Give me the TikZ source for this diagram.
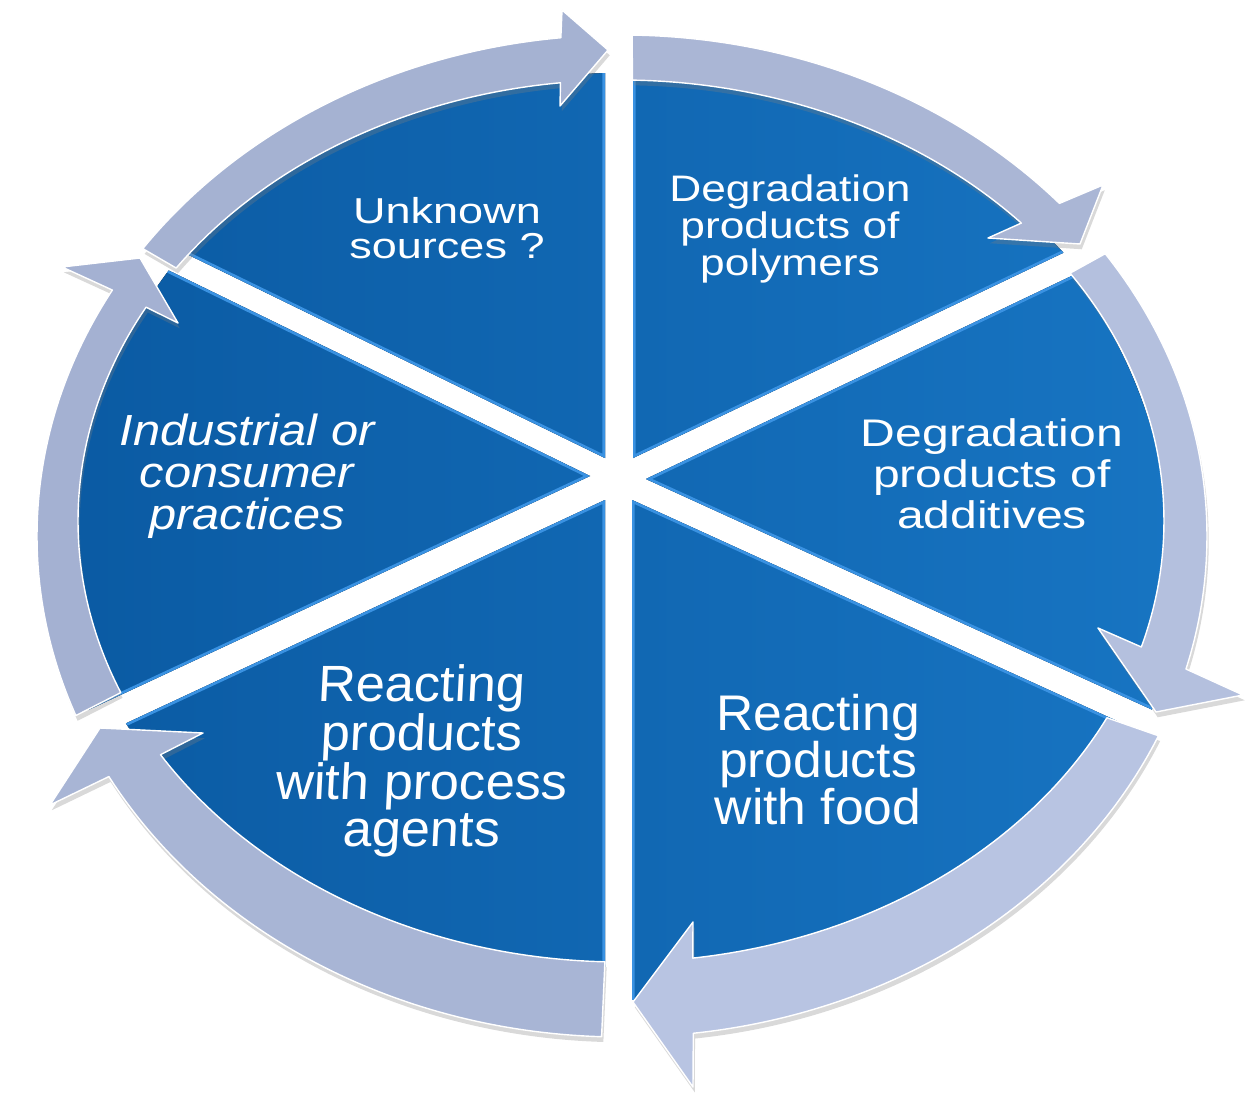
\documentclass[tikz,border=0pt]{standalone}
\usepackage{fontspec}
\setmainfont{Liberation Sans}
\newfontfamily\fUnk[FakeStretch=1.25]{Liberation Sans}
\newfontfamily\fPol[FakeStretch=1.2]{Liberation Sans}
\newfontfamily\fAdd[FakeStretch=1.25]{Liberation Sans}
\newfontfamily\fInd[FakeStretch=1.12]{Liberation Sans}
\newfontfamily\fPro[FakeStretch=1.03,FakeSlant=0.05]{Liberation Sans}
\newfontfamily\fFood[FakeStretch=1.03]{Liberation Sans}
\usetikzlibrary{shadows}
\definecolor{wl}{HTML}{0A59A1}
\definecolor{wr}{HTML}{1876C4}
\definecolor{bevelblue}{HTML}{3A92E2}
\definecolor{arA}{HTML}{A5B2D2}
\definecolor{arB}{HTML}{AAB6D5}
\definecolor{arC}{HTML}{B4C0DE}
\definecolor{arD}{HTML}{B8C4E2}
\definecolor{arE}{HTML}{A8B5D5}
\definecolor{arF}{HTML}{A4B1D2}
% tip, edge angle 1, edge angle 2, ellipse centre, x radius, y radius
\newcommand\wedgepiece[6]{%
  \begin{scope}
    \clip #1 -- +(#2:1500) -- +(#3:1500) -- cycle;
    \clip (#4) ellipse [x radius=#5, y radius=#6];
    \fill[left color=wl, right color=wr] (0,0) rectangle (1245,1095);
    \draw[bevel] #1 -- +(#2:1500) -- +(#3:1500) -- cycle;
  \end{scope}}
\begin{document}
\begin{tikzpicture}[x=0.02cm,y=-0.02cm,
  lbl/.style={text=white, align=center, inner sep=0pt},
  ringarrow/.style={draw=white, line width=0.8pt, line join=round,
    drop shadow={opacity=0.3, shadow xshift=1pt, shadow yshift=-3pt}},
  bevel/.style={draw=bevelblue, line width=3pt}]
\useasboundingbox (0,0) rectangle (1245,1095);

% wedges
\wedgepiece{(605,458)}{-154}{-90}{618,519}{550}{446}
\wedgepiece{(633,458)}{-90}{-25.5}{624,521}{550}{446}
\wedgepiece{(646,479)}{-25.5}{24.5}{620,570}{552}{520}
\wedgepiece{(632,500)}{24.5}{90}{621,540}{540}{460}
\wedgepiece{(605,500)}{90}{155}{618,521}{552}{446}
\wedgepiece{(590,476)}{155}{206}{620,570}{552}{520}

% arrows
\path[fill=arA, ringarrow] ([shift={(622,536)}]-145:585 and 501)
  arc[start angle=-145, end angle=-96, x radius=585, y radius=501]
  -- (562,10) -- (608,50) -- (560,106)
  -- ([shift={(621,521)}]-96.4:543 and 441)
  arc[start angle=-96.4, end angle=-145, x radius=543, y radius=441] -- cycle;

\path[fill=arB, ringarrow] ([shift={(622,536)}]-89:585 and 501)
  arc[start angle=-89, end angle=-41.6, x radius=585, y radius=501]
  -- (1103,185) -- (1080,244) -- (988,238)
  -- ([shift={(621,521)}]-42.5:543 and 441)
  arc[start angle=-42.5, end angle=-88.8, x radius=543, y radius=441] -- cycle;

\path[fill=arC, ringarrow] ([shift={(622,536)}]-34.3:585 and 501)
  arc[start angle=-34.3, end angle=15.4, x radius=585, y radius=501]
  -- (1243,695) -- (1156,712) -- (1098,628)
  -- ([shift={(621,521)}]16.6:543 and 441)
  arc[start angle=16.6, end angle=-34.2, x radius=543, y radius=441] -- cycle;

\path[fill=arD, ringarrow] ([shift={(622,536)}]23.5:585 and 501)
  arc[start angle=23.5, end angle=83, x radius=585, y radius=501]
  -- (693,1087) -- (633,1002) -- (693,922)
  -- ([shift={(621,521)}]82.4:543 and 441)
  arc[start angle=82.4, end angle=26.5, x radius=543, y radius=441] -- cycle;

\path[fill=arE, ringarrow] ([shift={(622,536)}]92:585 and 501)
  arc[start angle=92, end angle=151.3, x radius=585, y radius=501]
  -- (50,805) -- (100,728) -- (203,733)
  -- ([shift={(621,521)}]148:543 and 441)
  arc[start angle=148, end angle=91.7, x radius=543, y radius=441] -- cycle;

\path[fill=arF, ringarrow] ([shift={(622,536)}]159:585 and 501)
  arc[start angle=159, end angle=209.4, x radius=585, y radius=501]
  -- (62,267) -- (140,258) -- (178,323)
  -- ([shift={(621,521)}]209:543 and 441)
  arc[start angle=209, end angle=157.1, x radius=543, y radius=441] -- cycle;

% labels
\node[lbl, font=\fUnk\fontsize{20.5}{19.9}\selectfont] (unk) at (447,228) {Unknown\\sources ?};
\node[lbl, font=\fPol\fontsize{21}{21}\selectfont] (pol) at (790,229) {Degradation\\products of\\polymers};
\node[lbl, font=\fAdd\fontsize{21.9}{23.3}\selectfont] (add) at (992,474) {Degradation\\products of\\additives};
\node[lbl, font=\fInd\itshape\fontsize{24.8}{23.9}\selectfont] (ind) at (247,476) {Industrial or\\consumer\\practices};
\node[lbl, font=\fPro\fontsize{29}{26.7}\selectfont] (pro) at (421,761) {Reacting\\products\\with process\\agents};
\node[lbl, font=\fFood\fontsize{28.5}{26.7}\selectfont] (food) at (818,760) {Reacting\\products\\with food};
\end{tikzpicture}
\end{document}
